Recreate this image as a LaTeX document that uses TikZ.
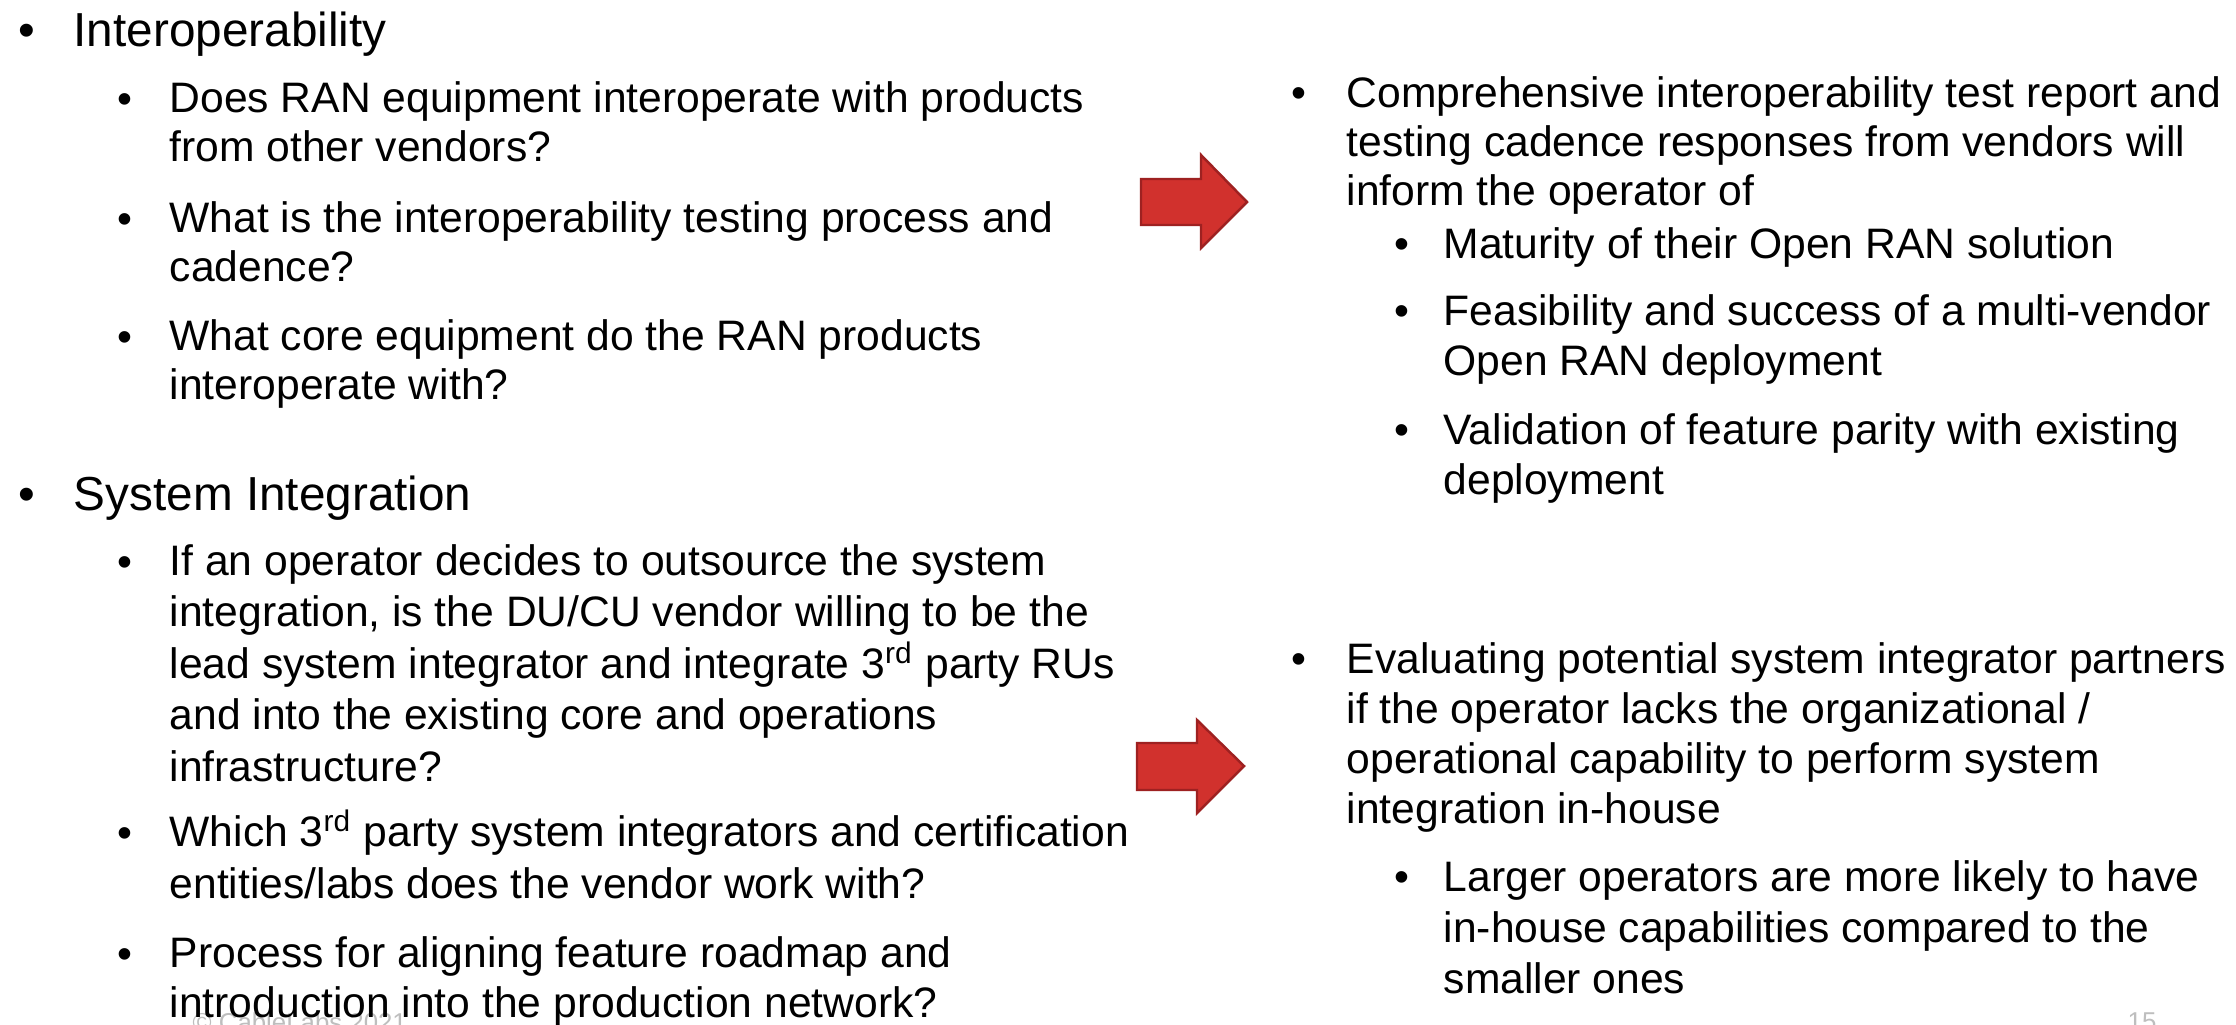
\documentclass[tikz,border=0pt]{standalone}
\usepackage{fontspec}
\setmainfont{Liberation Sans}
\usepackage{xcolor}
\definecolor{arrowred}{RGB}{209,49,45}
\definecolor{arrowedge}{RGB}{158,33,33}
\definecolor{footgray}{RGB}{190,190,190}

\begin{document}
\begin{tikzpicture}[x=0.01cm,y=-0.01cm,
  body/.style={anchor=base west,inner sep=0pt,align=left,font=\fontsize{12.12}{#1}\selectfont},
  body/.default=14.2,
  head/.style={anchor=base west,inner sep=0pt,font=\fontsize{13.57}{16}\selectfont},
  foot/.style={anchor=base west,inner sep=0pt,text=footgray,font=\fontsize{7.34}{9}\selectfont},
  redarrow/.style={draw=arrowedge,fill=arrowred,line width=0.7pt,line join=miter}]
\useasboundingbox[fill=white] (0,0) rectangle (2236,1024);

\node[foot] (copy) at (192,1031) {© CableLabs 2021.};
\node[foot] (pageno) at (2127,1030) {15};

\node[head] (dota) at (18,46) {•};
\node[head] (interop) at (73,46) {Interoperability};
\node[head] (dotb) at (18,510) {•};
\node[head] (sysint) at (73,510) {System Integration};

\foreach \y/\n in {113/1,233/2,351/3,576/4,847/5,968/6}
  \node[body] (ldot\n) at (117,\y) {•};
\foreach \y/\n in {107/1,673/2}
  \node[body] (rdot\n) at (1291,\y) {•};
\foreach \y/\n in {258/1,325/2,444/3,891/4}
  \node[body] (rsub\n) at (1394,\y) {•};

\node[body=13.7] (q1) at (169,161) {Does RAN equipment interoperate with products\\from other vendors?};
\node[body=13.7] (q2) at (169,281) {What is the interoperability testing process and\\cadence?};
\node[body=13.7] (q3) at (169,399) {What core equipment do the RAN products\\interoperate with?};
\node[body=14.6] (q4) at (169,781) {If an operator decides to outsource the system\\integration, is the DU/CU vendor willing to be the\\lead system integrator and integrate 3\textsuperscript{rd} party RUs\\and into the existing core and operations\\infrastructure?};
\node[body=14.6] (q5) at (169,898) {Which 3\textsuperscript{rd} party system integrators and certification\\entities/labs does the vendor work with?};
\node[body=14.2] (q6) at (169,1017) {Process for aligning feature roadmap and\\introduction into the production network?};

\node[body=13.9] (ans1) at (1346,205) {Comprehensive interoperability test report and\\testing cadence responses from vendors will\\inform the operator of};
\node[body] (ans1a) at (1443,258) {Maturity of their Open RAN solution};
\node[body] (ans1b) at (1443,375) {Feasibility and success of a multi-vendor\\Open RAN deployment};
\node[body] (ans1c) at (1443,494) {Validation of feature parity with existing\\deployment};
\node[body] (ans2) at (1346,823) {Evaluating potential system integrator partners\\if the operator lacks the organizational /\\operational capability to perform system\\integration in-house};
\node[body=14.5] (ans2a) at (1443,993) {Larger operators are more likely to have\\in-house capabilities compared to the\\smaller ones};

\draw[redarrow] (1141,179) -- (1201,179) -- (1201,155) -- (1247,202) -- (1201,248) -- (1201,225) -- (1141,225) -- cycle;
\draw[redarrow] (1137,743) -- (1197,743) -- (1197,720) -- (1244,766) -- (1197,813) -- (1197,790) -- (1137,790) -- cycle;

\end{tikzpicture}
\end{document}
